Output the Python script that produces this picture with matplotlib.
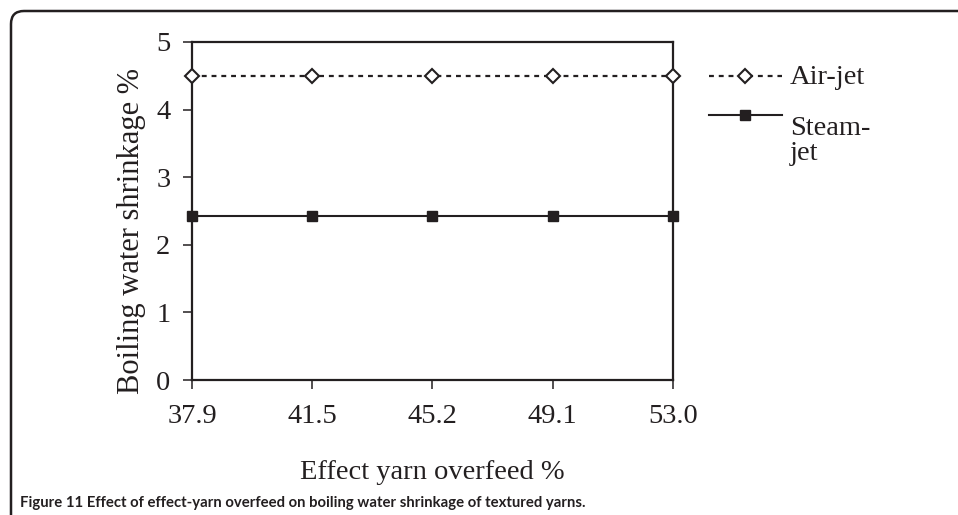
import matplotlib
matplotlib.use("Agg")
import matplotlib.pyplot as plt
from matplotlib.patches import FancyBboxPatch

# overfeed levels (categories) and shrinkage per jet type
overfeed = ["37.9", "41.5", "45.2", "49.1", "53.0"]
air_jet = [4.5, 4.5, 4.5, 4.5, 4.5]
steam_jet = [2.42, 2.42, 2.42, 2.42, 2.42]

ink = "#231f20"
W, H = 958, 515
fs = 20.5

plt.rcParams["font.family"] = ["Liberation Serif", "DejaVu Serif"]

fig = plt.figure(figsize=(W / 100, H / 100), dpi=100)
ax = fig.add_axes([192 / W, 1 - 380 / H, (673 - 192) / W, (380 - 42) / H])

x = list(range(len(overfeed)))
ax.plot(x, air_jet, color=ink, lw=1.6, dashes=(2.2, 2.2), marker="D", ms=7.5,
        mfc="white", mec=ink, mew=1.5, clip_on=False, zorder=3)
ax.plot(x, steam_jet, color=ink, lw=1.5, marker="s", ms=7.2,
        mfc=ink, mec=ink, clip_on=False, zorder=3)

ax.set_xlim(0, len(overfeed) - 1)
ax.set_ylim(0, 5)
ax.set_xticks(x)
ax.set_xticklabels(overfeed)
ax.set_yticks(range(6))
for s in ax.spines.values():
    s.set_linewidth(1.6)
    s.set_color(ink)
ax.tick_params(axis="both", direction="out", length=6.5, width=1.1, color=ink,
               labelsize=fs, labelcolor=ink)
ax.tick_params(axis="x", pad=11)
ax.tick_params(axis="y", pad=9)
ax.set_xlabel("Effect yarn overfeed %", fontsize=fs, color=ink, labelpad=22)
ax.set_ylabel("Boiling water shrinkage %", fontsize=22, color=ink)
ax.yaxis.set_label_coords(-0.095, 0.44)

# legend drawn beside the plot
def px(xp, yp):
    return xp / W, 1 - yp / H

for yp, style, label in [(76, "air", "Air-jet"), (115, "steam", "Steam-\njet")]:
    x0, y0 = px(709, yp)
    x1, _ = px(782, yp)
    xm, _ = px(745, yp)
    if style == "air":
        fig.add_artist(plt.Line2D([x0, x1], [y0, y0], color=ink, lw=1.6,
                                  dashes=(2.2, 2.2)))
        fig.add_artist(plt.Line2D([xm], [y0], marker="D", ms=7.5, mfc="white",
                                  mec=ink, mew=1.5, color=ink))
        fig.text(*px(790, yp + 1), label, fontsize=fs, color=ink,
                 ha="left", va="center")
    else:
        fig.add_artist(plt.Line2D([x0, x1], [y0, y0], color=ink, lw=1.5))
        fig.add_artist(plt.Line2D([xm], [y0], marker="s", ms=7.2, mfc=ink,
                                  mec=ink, color=ink))
        fig.text(*px(790, yp + 1), label, fontsize=fs, color=ink,
                 ha="left", va="top", linespacing=1.0)

# rounded frame around the figure panel
frame = FancyBboxPatch((0.11, -1.0), 12.0, 6.04, boxstyle="round,pad=0,rounding_size=0.13",
                       transform=fig.dpi_scale_trans, fill=False, ec=ink, lw=1.8)
fig.add_artist(frame)

fig.text(20 / W, 1 - 503 / H,
         "Figure 11 Effect of effect-yarn overfeed on boiling water shrinkage of textured yarns.",
         fontsize=10.7, fontweight="bold", family="Lato", color=ink,
         ha="left", va="center")

fig.savefig("out.png", dpi=100)
